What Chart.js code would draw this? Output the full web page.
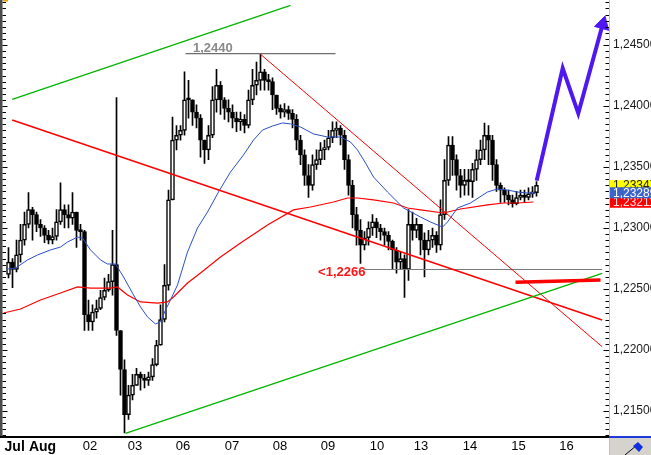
<!DOCTYPE html>
<html><head><meta charset="utf-8">
<style>html,body{margin:0;padding:0;background:#fff;overflow:hidden}canvas{display:block}</style>
<script src="https://cdn.jsdelivr.net/npm/chart.js@4.4.1/dist/chart.umd.min.js"></script>
</head><body>
<canvas id="c" width="651" height="455"></canvas>
<script>
// ---- DATA (EUR/USD, 2-hour bars, 31 Jul - 15 Aug) ----
const firstOpen = 1.2262;
const closes = [
1.2272,1.2266,1.2278,1.2290,1.2303,1.2315,1.2311,1.2303,1.2300,1.2294,
1.2290,1.2293,1.2305,1.2315,1.2311,1.2308,1.2313,1.2298,1.2297,1.2229,
1.2223,1.2231,1.2234,1.2243,1.2249,1.2256,1.2270,1.2216,1.2184,1.2147,
1.2163,1.2171,1.2180,1.2177,1.2175,1.2178,1.2188,1.2204,1.2225,1.2253,
1.2323,1.2372,1.2376,1.2380,1.2405,1.2405,1.2395,1.2390,1.2372,1.2364,
1.2376,1.2405,1.2417,1.2405,1.2398,1.2395,1.2390,1.2387,1.2389,1.2384,
1.2405,1.2417,1.2421,1.2428,1.2421,1.2420,1.2409,1.2398,1.2395,1.2397,
1.2394,1.2389,1.2372,1.2360,1.2343,1.2335,1.2352,1.2356,1.2364,1.2366,
1.2374,1.2380,1.2382,1.2376,1.2356,1.2335,1.2311,1.2298,1.2286,1.2292,
1.2300,1.2305,1.2300,1.2297,1.2294,1.2289,1.2282,1.2272,1.2275,1.2266,
1.2303,1.2298,1.2303,1.2290,1.2282,1.2290,1.2294,1.2286,1.2311,1.2339,
1.2368,1.2356,1.2343,1.2335,1.2339,1.2338,1.2348,1.2356,1.2364,1.2376,
1.2372,1.2352,1.2335,1.2331,1.2327,1.2323,1.2320,1.2325,1.2327,1.2325,
1.2328,1.2329,1.2335];
const highs = [
1.2284,1.2275,1.2290,1.2303,1.2313,1.2329,1.2317,1.2313,1.2307,1.2302,
1.2298,1.2300,1.2315,1.2337,1.2319,1.2319,1.2329,1.2313,1.2303,1.2298,
1.2241,1.2237,1.2241,1.2249,1.2259,1.2262,1.2298,1.2407,1.2216,1.2192,
1.2171,1.2180,1.2185,1.2182,1.2180,1.2182,1.2193,1.2208,1.2237,1.2270,
1.2331,1.2391,1.2384,1.2384,1.2428,1.2421,1.2405,1.2401,1.2393,1.2372,
1.2384,1.2416,1.2430,1.2420,1.2407,1.2405,1.2401,1.2395,1.2395,1.2393,
1.2413,1.2430,1.2436,1.2443,1.2430,1.2426,1.2423,1.2409,1.2401,1.2402,
1.2400,1.2397,1.2393,1.2376,1.2364,1.2352,1.2360,1.2364,1.2370,1.2372,
1.2380,1.2387,1.2387,1.2384,1.2380,1.2360,1.2339,1.2317,1.2307,1.2297,
1.2305,1.2311,1.2308,1.2303,1.2300,1.2297,1.2290,1.2284,1.2280,1.2278,
1.2315,1.2313,1.2308,1.2300,1.2296,1.2298,1.2300,1.2297,1.2323,1.2356,
1.2375,1.2375,1.2360,1.2348,1.2348,1.2348,1.2353,1.2364,1.2372,1.2386,
1.2384,1.2376,1.2356,1.2337,1.2333,1.2331,1.2327,1.2330,1.2331,1.2331,
1.2333,1.2334,1.2338];
const lows = [
1.2259,1.2251,1.2264,1.2272,1.2286,1.2300,1.2290,1.2297,1.2293,1.2288,
1.2287,1.2287,1.2290,1.2303,1.2300,1.2300,1.2303,1.2284,1.2290,1.2216,
1.2216,1.2216,1.2226,1.2233,1.2241,1.2248,1.2245,1.2212,1.2163,1.2132,
1.2143,1.2159,1.2171,1.2167,1.2169,1.2171,1.2175,1.2187,1.2204,1.2223,
1.2249,1.2323,1.2364,1.2372,1.2376,1.2390,1.2384,1.2382,1.2358,1.2353,
1.2356,1.2374,1.2395,1.2393,1.2389,1.2387,1.2382,1.2379,1.2380,1.2378,
1.2382,1.2401,1.2409,1.2413,1.2413,1.2413,1.2397,1.2393,1.2390,1.2391,
1.2389,1.2382,1.2364,1.2352,1.2335,1.2325,1.2331,1.2348,1.2352,1.2356,
1.2364,1.2370,1.2374,1.2368,1.2348,1.2327,1.2300,1.2286,1.2271,1.2282,
1.2286,1.2294,1.2292,1.2290,1.2286,1.2282,1.2266,1.2263,1.2266,1.2243,
1.2257,1.2290,1.2292,1.2278,1.2260,1.2278,1.2284,1.2280,1.2282,1.2307,
1.2335,1.2343,1.2331,1.2325,1.2327,1.2327,1.2325,1.2339,1.2352,1.2356,
1.2352,1.2339,1.2330,1.2321,1.2321,1.2319,1.2317,1.2319,1.2323,1.2321,
1.2323,1.2325,1.2326];

// moving averages (bar index, price)
const maFastX = [-0.25,1.75,4.75,7.25,10.5,13,14.75,17.25,18.5,20.5,23,24.75,26.75,28.75,31.25,33,34.75,36.75,38,39.25,40.5,42.25,44.75,47.25,49.75,52.5,55.5,58.75,61.25,63.5,66,68.5,70.5,73,76.25,79.75,83,85.5,87.25,89.25,91.25,94.75,98.75,103,105.5,108.5,109.75,112.25,115.5,119.75,122.25,124.75,127.25,129.75,131.75];
const maFastY = [1.22664,1.22672,1.22738,1.22779,1.22820,1.22844,1.22885,1.22926,1.22918,1.22820,1.22738,1.22705,1.22705,1.22599,1.22451,1.22353,1.22271,1.22213,1.22230,1.22328,1.22410,1.22533,1.22803,1.23000,1.23131,1.23295,1.23459,1.23599,1.23721,1.23803,1.23836,1.23861,1.23853,1.23828,1.23771,1.23746,1.23746,1.23705,1.23639,1.23533,1.23418,1.23295,1.23164,1.23090,1.23049,1.23008,1.23049,1.23164,1.23205,1.23295,1.23320,1.23311,1.23295,1.23287,1.23287];
const maSlowX = [-1.25,3,8,13,17.25,20.5,25.5,27.25,29.75,33,37.25,39.75,41.25,44.75,48,53,58,64.75,71.25,75.5,81.25,84.75,87.25,91.25,96.25,99.75,103,108.75,113,119.75,123.75,127.25,131.25];
const maSlowY = [1.22303,1.22336,1.22410,1.22467,1.22517,1.22508,1.22508,1.22517,1.22451,1.22394,1.22385,1.22394,1.22435,1.22549,1.22631,1.22762,1.22877,1.23025,1.23148,1.23172,1.23213,1.23246,1.23246,1.23230,1.23205,1.23164,1.23148,1.23123,1.23156,1.23189,1.23205,1.23205,1.23213];

// trend lines (bar index, price)
const greenUpper = [[0.925,1.24055],[70.5,1.24825]];
const greenLower = [[29.25,1.21317],[148.4,1.22629]];
const redLong    = [[0.925,1.23885],[148.4,1.22246]];
const redThin    = [[63,1.24424],[148.4,1.22027]];
const highLevel  = [[44.25,1.2443],[81.75,1.2443]];
const lowLevel   = [[88.75,1.2266],[148.4,1.2266]];
const redTarget  = [[126.75,1.22555],[148,1.22574]];
const arrowPath  = [[132.05,1.23388],[138.55,1.24309],[142.45,1.23940],[148.55,1.24670]];

// axis labels
const dayTickPos = [1.55,8.5,20.4,31.6,43.6,55.9,67.9,79.9,92.1,103.1,115.4,127.5,139.5];
const dayTickLabels = ['Jul','Aug','02','03','06','07','08','09','10','13','14','15','16'];
const priceTicks = [1.215,1.22,1.225,1.23,1.235,1.24,1.245];

// right-axis value boxes
const lastPrice = 1.23347, maFastLast = 1.23289, maSlowLast = 1.23211;

// ---- build datasets ----
const opens = closes.map((c,i)=> i===0 ? firstOpen : closes[i-1]);
const wickData = closes.map((c,i)=>({x:i, y:[lows[i], highs[i]]}));
const bodyData = closes.map((c,i)=>({x:i, y:[opens[i], c]}));
const pts = a => a.map(p=>({x:p[0], y:p[1]}));
const zip = (xs,ys) => xs.map((x,i)=>({x, y:ys[i]}));
const fmt = v => v.toFixed(5).replace('.', ',');
const FONT = '"Liberation Sans", Arial, sans-serif';

function lineDs(data, color, width, order){
  return {type:'line', data, borderColor:color, borderWidth:width, pointRadius:0, tension:0, fill:false, order};
}

const annotations = [
  {text:'1,2440', x:46.1, y:1.24476, color:'#8a8a8a'},
  {text:'<1,2266', x:77.4, y:1.22635, color:'#ff1414'}
];

const deco = {
  id:'deco',
  beforeDraw(chart){
    const c=chart.ctx; c.save(); c.fillStyle='#fff'; c.fillRect(0,0,chart.width,chart.height); c.restore();
  },
  afterDatasetsDraw(chart){
    const {ctx:c, scales:{x,y}} = chart;
    c.save();
    c.font = 'bold 13px '+FONT; c.textAlign='left'; c.textBaseline='middle';
    annotations.forEach(a=>{ c.fillStyle=a.color; c.fillText(a.text, x.getPixelForValue(a.x), y.getPixelForValue(a.y)); });
    c.restore();
  },
  afterDraw(chart){
    const {ctx:c, chartArea:a, scales:{y}} = chart;
    c.save();
    c.fillStyle='#4d4d4d'; c.fillRect(0,0,2.5,a.bottom+1);
    c.fillStyle='#f0a000'; c.fillRect(3,0,5,1.5);
    c.fillStyle='#000'; c.fillRect(0,a.bottom-1,a.left+1,2);
    c.strokeStyle='#000'; c.lineWidth=1;
    const step=0.0005;
    for(let k=Math.ceil(y.min/step); k<=Math.floor(y.max/step); k++){
      const py=Math.round(y.getPixelForValue(k*step))+0.5;
      const major = k%10===0;
      c.beginPath();
      c.moveTo(2.5,py); c.lineTo(2.5+(major?5:3.5),py);
      c.moveTo(a.right,py); c.lineTo(a.right-(major?5.5:3.5),py);
      c.stroke();
    }
    c.font='12px '+FONT; c.textBaseline='middle'; c.textAlign='left';
    const box=(v,bg,fg)=>{ const py=y.getPixelForValue(v); c.fillStyle=bg; c.fillRect(a.right+1,py-5.5,chart.width-a.right,11); c.fillStyle=fg; c.fillText(fmt(v),a.right+4,py+0.5); };
    box(lastPrice,'#ffff00','#202020');
    box(maSlowLast,'#ff0000','#ffe0e0');
    box(maFastLast,'#3c64c8','#ffffff');
    c.fillStyle='#d6d3ce'; c.fillRect(a.right,a.bottom,chart.width-a.right,chart.height-a.bottom);
    c.fillStyle='#1c3ad8'; c.fillRect(a.right,a.bottom-1,chart.width-a.right,2);
    c.fillStyle='#f0c040'; c.fillRect(a.right,a.bottom+1,1,chart.height-a.bottom);
    c.strokeStyle='#000'; c.lineWidth=1; c.beginPath(); c.moveTo(625,455); c.lineTo(637,445); c.stroke();
    c.fillStyle='#1030e0'; c.beginPath(); c.moveTo(633,446); c.lineTo(638,442); c.lineTo(643,447); c.lineTo(639,452); c.closePath(); c.fill();
    c.restore();
  }
};

new Chart(document.getElementById('c'), {
  type:'bar',
  data:{ datasets:[
    lineDs(zip(maSlowX,maSlowY),'#ff0000',1.2,6),
    lineDs(zip(maFastX,maFastY),'#2a50c8',1,5),
    lineDs(pts(greenUpper),'#00b400',1.3,4),
    lineDs(pts(greenLower),'#00b400',1.3,4),
    lineDs(pts(redLong),'#ff0000',1.5,4),
    lineDs(pts(redThin),'#ff0000',1,4),
    lineDs(pts(highLevel),'#6e6e6e',1.2,4),
    lineDs(pts(lowLevel),'#7a7a7a',1.2,4),
    lineDs(pts(redTarget),'#ff0000',3.5,3),
    {type:'line', data:pts(arrowPath), borderColor:'#5018f0', borderWidth:4, tension:0, fill:false,
     borderJoinStyle:'miter', pointRadius:[0,0,0,8.5], pointStyle:'triangle', pointRotation:[0,0,0,15.5],
     pointBackgroundColor:'#5018f0', pointBorderColor:'#5018f0', pointBorderWidth:1, order:2},
    {type:'bar', data:wickData, backgroundColor:'#000', borderWidth:0, barThickness:1, grouped:false, order:20},
    {type:'bar', data:bodyData, grouped:false, order:19, barThickness:4, minBarLength:2,
     borderWidth:1.5, borderColor:'#000', borderSkipped:false,
     backgroundColor: ctx => { const r = ctx.raw; return (r && r.y[1] > r.y[0]) ? '#ffffff' : '#000000'; }}
  ]},
  plugins:[deco],
  options:{
    responsive:false, animation:false, devicePixelRatio:1,
    layout:{padding:{left:3.5,right:0,top:0,bottom:0}, autoPadding:false},
    plugins:{legend:{display:false}, tooltip:{enabled:false}},
    scales:{
      x:{type:'linear', min:-1.25, max:150.125, offset:false,
         afterFit: s=>{ s.height=18; s.paddingLeft=0; s.paddingRight=0; s.paddingTop=0; s.paddingBottom=0; },
         afterBuildTicks: s=>{ s.ticks = dayTickPos.map(v=>({value:v})); },
         grid:{display:false, drawTicks:false},
         border:{display:true, color:'#000', width:2},
         ticks:{autoSkip:false, maxRotation:0, minRotation:0, padding:2, color:'#000',
                callback:(v,i)=>dayTickLabels[i],
                font: ctx => ({family:FONT, size: ctx.index<2?14:13, weight: ctx.index<2?'bold':'normal'})}},
      y:{type:'linear', position:'right', min:1.212869, max:1.248689,
         afterFit: s=>{ s.width=42; s.paddingTop=0; s.paddingBottom=0; s.paddingLeft=0; s.paddingRight=0; },
         afterBuildTicks: s=>{ s.ticks = priceTicks.map(v=>({value:v})); },
         grid:{display:false, drawTicks:false},
         border:{display:true, color:'#f0c040', width:1},
         ticks:{padding:4, color:'#1a1a1a', font:{family:FONT, size:12}, callback: v=>fmt(v)}}
    }
  }
});
</script>
</body></html>
